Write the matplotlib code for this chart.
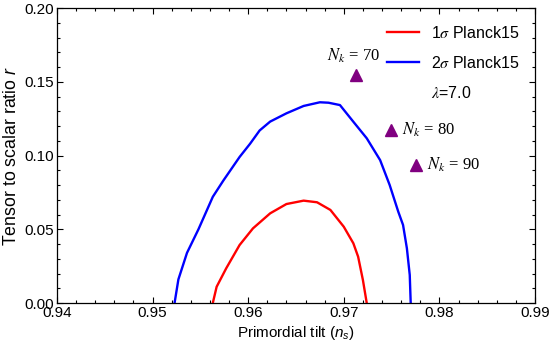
import numpy as np
import matplotlib
matplotlib.use("Agg")
import matplotlib.pyplot as plt
from matplotlib.lines import Line2D
from matplotlib.ticker import MultipleLocator, FormatStrFormatter

plt.rcParams['font.family'] = ['Liberation Sans', 'DejaVu Sans']
plt.rcParams['mathtext.fontset'] = 'custom'
plt.rcParams['mathtext.rm'] = 'Liberation Sans'
plt.rcParams['mathtext.it'] = 'Liberation Sans:italic'

# --- 2 sigma Planck15 contour (n_s, r) ---
ns_2sig = [0.9523, 0.9527, 0.9536, 0.9548, 0.9563, 0.9574, 0.9591, 0.9602,
           0.9612, 0.9623, 0.9640, 0.9658, 0.9675, 0.9684, 0.9696, 0.9710,
           0.9724, 0.9738, 0.9748, 0.9757, 0.9762, 0.9766, 0.9769, 0.9770]
r_2sig = [0.000, 0.016, 0.034, 0.050, 0.072, 0.083, 0.099, 0.108,
          0.117, 0.123, 0.1286, 0.1336, 0.1361, 0.1358, 0.1342, 0.1229,
          0.1117, 0.0969, 0.080, 0.0619, 0.0529, 0.0371, 0.019, 0.000]

# --- 1 sigma Planck15 contour ---
ns_1sig = [0.9563, 0.9567, 0.9577, 0.9591, 0.9605, 0.9623, 0.9640, 0.9658,
           0.9672, 0.9686, 0.9700, 0.9710, 0.9715, 0.9720, 0.9724]
r_1sig = [0.000, 0.011, 0.0235, 0.0393, 0.0506, 0.0608, 0.0671, 0.0694,
          0.0683, 0.0631, 0.0517, 0.0405, 0.0314, 0.0156, 0.000]

# --- model predictions for lambda = 7.0 ---
Nk = [70, 80, 90]
ns_model = [0.97128, 0.97490, 0.97755]
r_model = [0.1546, 0.1173, 0.0936]
label_offsets = [(-1.5, 14), (8, 0), (8, 0)]
label_ha = ["center", "left", "left"]

fig = plt.figure(figsize=(5.5, 3.49), dpi=100)
ax = fig.add_axes([0.1036, 0.1318, 0.8691, 0.8452])

ax.plot(ns_1sig, r_1sig, color=(1, 0, 0), lw=1.7, label=r'1$\sigma$ Planck15')
ax.plot(ns_2sig, r_2sig, color=(0, 0, 1), lw=1.7, label=r'2$\sigma$ Planck15')
ax.plot(ns_model, r_model, ls='none', marker='^', ms=8.5,
        color=(0.5, 0, 0.5))

for n, x, y, off, ha in zip(Nk, ns_model, r_model, label_offsets, label_ha):
    ax.annotate(r'$N_k$ = %d' % n, (x, y), xytext=off,
                textcoords='offset points', ha=ha, va='center',
                fontsize=12, family='Liberation Serif', math_fontfamily='stix')

ax.set_xlim(0.94, 0.99)
ax.set_ylim(0.0, 0.20)
ax.xaxis.set_major_locator(MultipleLocator(0.01))
ax.xaxis.set_minor_locator(MultipleLocator(0.002))
ax.yaxis.set_major_locator(MultipleLocator(0.05))
ax.yaxis.set_minor_locator(MultipleLocator(0.01))
ax.xaxis.set_major_formatter(FormatStrFormatter('%.2f'))
ax.yaxis.set_major_formatter(FormatStrFormatter('%.2f'))
ax.tick_params(which='both', direction='in', top=True, right=True,
               labelsize=11, width=0.8)
ax.tick_params(which='major', length=4.5, pad=2)
ax.tick_params(which='minor', length=2.5)
for s in ax.spines.values():
    s.set_linewidth(0.9)

ax.set_xlabel(r'Primordial tilt ($n_s$)', fontsize=11, labelpad=3)
ax.set_ylabel(r'Tensor to scalar ratio $r$', fontsize=12.8, labelpad=3)

handles, labels = ax.get_legend_handles_labels()
handles.append(Line2D([], [], ls='none'))
labels.append(r'$\lambda$=7.0')
leg = ax.legend(handles, labels, loc='upper right', frameon=False,
                fontsize=11.5, handlelength=2.0, handletextpad=0.75,
                labelspacing=0.88, bbox_to_anchor=(0.98, 0.965),
                borderaxespad=0)
for t in leg.get_texts():
    t.set_math_fontfamily('stix')

fig.savefig('out.png', dpi=100)
